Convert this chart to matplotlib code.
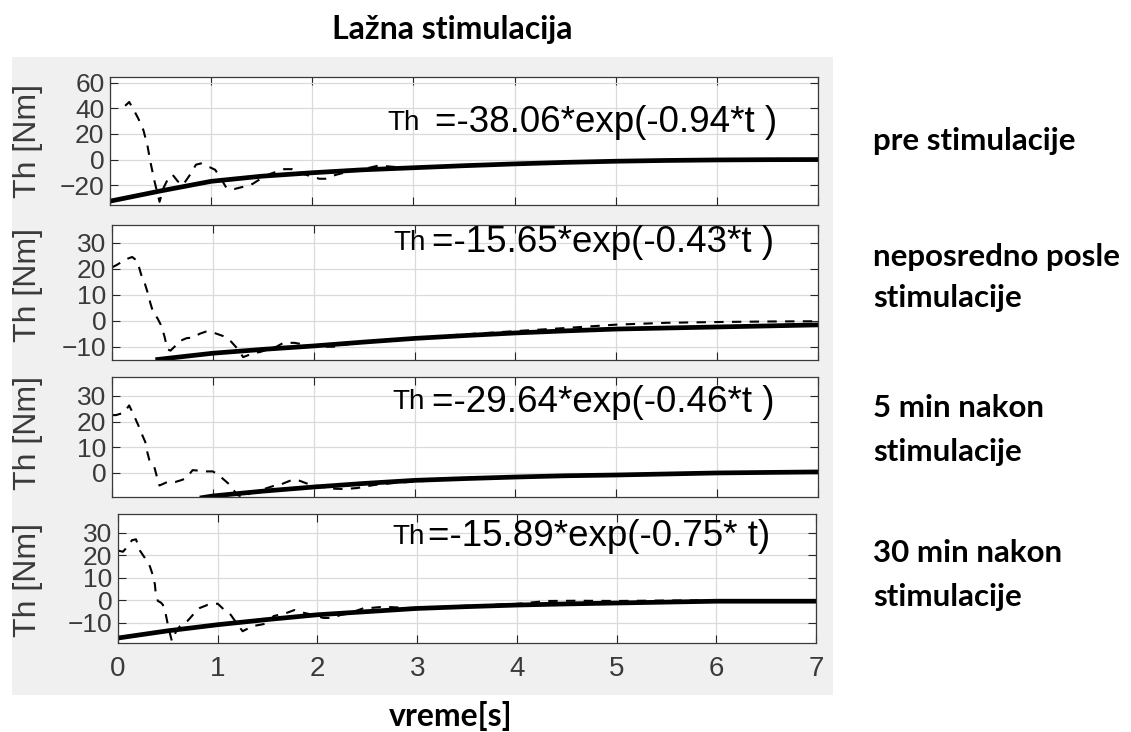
import matplotlib
matplotlib.use("Agg")
import matplotlib.pyplot as plt
from matplotlib.patches import Rectangle

# figure size in pixels
W, H = 1131, 732

# --- data -----------------------------------------------------------------
# measured torque (dashed) and exponential fit (solid), time in s, Th in Nm
t_pre = [0.15, 0.19, 0.24, 0.28, 0.33, 0.37, 0.40, 0.44, 0.49, 0.53, 0.58,
         0.62, 0.67, 0.72, 0.79, 0.85, 0.90, 0.96, 1.04, 1.09, 1.15, 1.23,
         1.33, 1.41, 1.53, 1.59, 1.72, 1.80, 1.90, 2.07, 2.13, 2.23, 2.43,
         2.50, 2.64, 2.70, 2.85, 3.00, 3.20, 3.50, 4.00, 4.50, 5.00, 5.50,
         6.00, 6.50, 7.00]
th_pre = [42, 45, 38, 32, 23, 11, -2, -17, -33, -22, -14,
          -12, -17, -20, -12, -4, -3, -5, -8, -14, -22, -23,
          -21, -19, -13, -11, -7.5, -7.5, -11, -15, -15, -12, -8,
          -7.5, -5, -5, -6, -7, -5.5, -4.5, -3, -2, -1.2, -0.7,
          -0.3, 0, 0]
t_pre_fit = [0, 0.5, 1, 1.5, 2, 2.5, 3, 3.5, 4, 4.5, 5, 5.5, 6, 6.5, 7]
th_pre_fit = [-32.5, -24.5, -17, -13, -10.3, -8, -6.4, -4.8, -3.4, -2.2,
              -1.3, -0.7, -0.3, -0.1, 0]

t_post = [0, 0.05, 0.13, 0.20, 0.25, 0.29, 0.32, 0.36, 0.38, 0.41, 0.45,
          0.49, 0.52, 0.55, 0.58, 0.62, 0.66, 0.74, 0.80, 0.87, 0.93, 1.00,
          1.11, 1.18, 1.25, 1.30, 1.40, 1.47, 1.55, 1.63, 1.70, 1.81, 1.88,
          2.05, 2.20, 2.35, 2.55, 2.75, 2.90, 3.20, 3.60, 4.00, 4.50, 5.00,
          5.50, 6.00, 6.50, 7.00]
th_post = [20.5, 21.5, 23.5, 24.5, 23, 17.6, 15, 10, 6.8, 3, 1,
           -2, -6, -11, -11.5, -10, -8, -6.7, -6.5, -5, -4.2, -4.5,
           -6, -8, -11, -14, -12.5, -12, -11, -10, -8.5, -8.5, -9,
           -10, -10, -9, -8, -7.5, -7, -6, -5, -4, -2.8, -1.5,
           -0.8, -0.5, -0.3, -0.2]
t_post_fit = [0.43, 0.7, 1, 1.5, 2, 2.5, 3, 3.5, 4, 4.5, 5, 5.5, 6, 6.5, 7]
th_post_fit = [-15, -13.8, -12.5, -11, -9.7, -8.2, -6.8, -5.7, -4.7, -3.9,
               -3.2, -2.8, -2.4, -2.0, -1.6]

t_5min = [0, 0.04, 0.12, 0.17, 0.21, 0.26, 0.30, 0.33, 0.35, 0.37, 0.42,
          0.45, 0.47, 0.50, 0.55, 0.63, 0.68, 0.73, 0.80, 0.86, 0.93, 1.00,
          1.04, 1.08, 1.17, 1.24, 1.30, 1.40, 1.50, 1.63, 1.68, 1.78, 1.85,
          1.95, 2.17, 2.30, 2.43, 2.60, 2.80, 3.00, 3.50, 4.00, 4.50, 5.00,
          5.50, 6.00, 6.50, 7.00]
th_5min = [22.5, 22.5, 23.5, 26.3, 23, 18.6, 14.7, 12, 8, 5, 2.2,
           -2.3, -5, -4.5, -3.6, -3.6, -3, -2.3, 1, 0.8, 0.5, 0.5,
           -0.5, -1.7, -4.8, -8.7, -9.5, -7.5, -6.5, -4.8, -4.5, -2.9, -3,
           -4.5, -6.2, -6.4, -6, -4.8, -4, -3.5, -2.2, -1.5, -1.0, -0.7,
           -0.3, 0, 0.2, 0.3]
t_5min_fit = [0.87, 1, 1.5, 2, 2.5, 3, 3.5, 4, 4.5, 5, 5.5, 6, 6.5, 7]
th_5min_fit = [-9.9, -9.1, -7.2, -5.6, -4.2, -3, -2.3, -1.7, -1.2, -0.9,
               -0.5, -0.1, 0.1, 0.3]

t_30min = [0, 0.05, 0.10, 0.14, 0.18, 0.22, 0.27, 0.32, 0.35, 0.37, 0.38,
           0.40, 0.43, 0.45, 0.48, 0.50, 0.52, 0.54, 0.58, 0.62, 0.66, 0.70,
           0.76, 0.82, 0.90, 1.00, 1.06, 1.13, 1.20, 1.25, 1.35, 1.43, 1.52,
           1.56, 1.69, 1.77, 1.86, 1.91, 2.06, 2.16, 2.23, 2.30, 2.47, 2.53,
           2.63, 2.73, 2.90, 3.10, 3.50, 4.00, 4.30, 4.60, 5.00, 5.50, 6.00,
           6.50, 7.00]
th_30min = [22, 21.5, 24, 26.6, 27, 22, 18.7, 15, 11, 7, 2.3,
            -0.3, -1, -2, -6.4, -10.8, -14.5, -18, -14, -11.5, -10, -9,
            -6, -3.4, -2, -1.5, -4, -6.4, -10.8, -13.7, -11.4, -10.8, -10,
            -7, -5.6, -4.3, -5.5, -6, -7.8, -7.8, -6.5, -6, -3.4, -3.4,
            -3, -3, -3.4, -3.2, -2.4, -1.6, -0.3, -0.2, -0.3, -0.1, 0,
            0, 0]
t_30min_fit = [0, 0.5, 1, 1.5, 2, 2.5, 3, 3.5, 4, 4.5, 5, 5.5, 6, 6.5, 7]
th_30min_fit = [-16.7, -13.5, -10.8, -8.5, -6.4, -5, -3.6, -2.8, -2.1, -1.6,
                -1.2, -0.8, -0.4, -0.4, -0.4]

x_ticks = [0, 1, 2, 3, 4, 5, 6, 7]
y_ticks = [[-20, 0, 20, 40, 60], [-10, 0, 10, 20, 30],
           [0, 10, 20, 30], [-10, 0, 10, 20, 30]]
y_limits = [(-35.5, 64.5), (-15.1, 36.8), (-9.5, 37.4), (-18.9, 38.2)]
fit_coef = ["-38.06", "-15.65", "-29.64", "-15.89"]
fit_rate = ["-0.94*t )", "-0.43*t )", "-0.46*t )", "-0.75* t)"]
conditions = [["pre stimulacije"],
              ["neposredno posle", "stimulacije"],
              ["5 min nakon", "stimulacije"],
              ["30 min nakon", "stimulacije"]]

measured = [(t_pre, th_pre), (t_post, th_post), (t_5min, th_5min),
            (t_30min, th_30min)]
fitted = [(t_pre_fit, th_pre_fit), (t_post_fit, th_post_fit),
          (t_5min_fit, th_5min_fit), (t_30min_fit, th_30min_fit)]

# --- layout (pixel boxes: left, top, right, bottom) -----------------------
boxes = [(110, 77, 818, 205), (112, 225, 818, 360),
         (112, 377, 818, 497), (118, 514, 816, 643)]
eq_pos = [(387, 435, 123), (393, 432, 243), (392, 432, 402), (392, 428, 537)]
label_y = [141, 285, 433, 580]
cond_y = [(141,), (257, 298), (408, 452), (553, 597)]

plt.rcParams['font.family'] = ['Liberation Sans', 'DejaVu Sans']
tick_grey = '#3a3a3a'

fig = plt.figure(figsize=(W / 100, H / 100), dpi=100, facecolor='white')

# grey MATLAB-style figure background
fig.patches.append(Rectangle((12 / W, 1 - 695 / H), (833 - 12) / W,
                             (695 - 57) / H, transform=fig.transFigure,
                             facecolor='#f0f0f0', edgecolor='none', zorder=-10))


def fx(px):
    return px / W


def fy(py):
    return 1 - py / H


for i, (x0, y0, x1, y1) in enumerate(boxes):
    ax = fig.add_axes([fx(x0), fy(y1), (x1 - x0) / W, (y1 - y0) / H])
    ax.set_facecolor('white')
    t, th = measured[i]
    ax.plot(t, th, color='black', lw=1.5, linestyle=(0, (4.5, 4)))
    tf, thf = fitted[i]
    ax.plot(tf, thf, color='black', lw=3.4, solid_capstyle='butt')
    ax.set_xlim(0, 7)
    ax.set_ylim(*y_limits[i])
    ax.set_xticks(x_ticks)
    ax.set_yticks(y_ticks[i])
    ax.grid(True, color='#dadada', lw=0.9)
    ax.set_axisbelow(True)
    ax.tick_params(direction='in', length=6, width=0.8, top=True, right=True,
                   colors='#262626', labelcolor=tick_grey, labelsize=19, pad=4)
    for s in ax.spines.values():
        s.set_color('#3a3a3a')
        s.set_linewidth(0.9)
    if i < 3:
        ax.set_xticklabels([])
    else:
        ax.tick_params(axis='x', labelsize=20, pad=9)
    ax.set_ylabel('Th [Nm]', fontsize=23, color=tick_grey)
    ax.yaxis.set_label_coords(fx(43), fy(label_y[i]), transform=fig.transFigure)

    # fitted equation
    xt, xe, ye = eq_pos[i]
    fig.text(fx(xt), fy(ye), 'Th', fontsize=20, va='center', ha='left')
    fig.text(fx(xe), fy(ye), '=' + fit_coef[i] + '*exp(' + fit_rate[i],
             fontsize=26.5, va='center', ha='left')

    # condition label on the right
    for line, yy in zip(conditions[i], cond_y[i]):
        fig.text(fx(873), fy(yy), line, fontsize=22.5, fontweight='bold',
                 family='Lato', va='center', ha='left')

fig.text(fx(452), fy(30), 'Lažna stimulacija', fontsize=23,
         fontweight='bold', family='Lato', ha='center', va='center')
fig.text(fx(451), fy(716), 'vreme[s]', fontsize=23, fontweight='bold',
         family='Lato', ha='center', va='center')

fig.savefig('out.png', dpi=100, facecolor='white')
